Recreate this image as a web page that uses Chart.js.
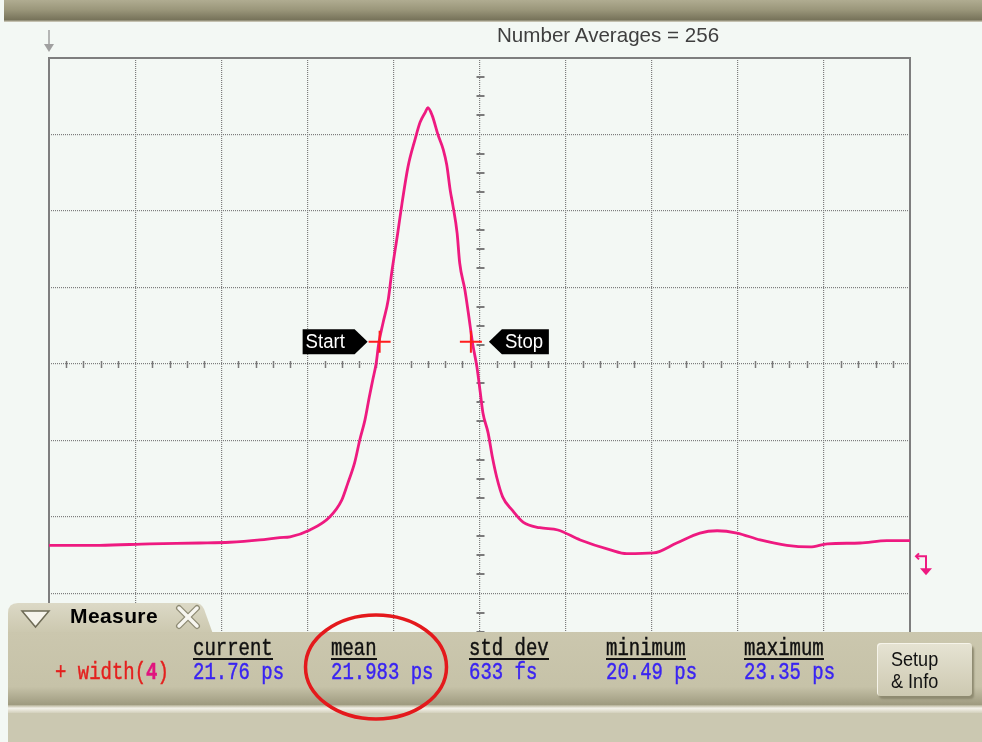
<!DOCTYPE html>
<html>
<head>
<meta charset="utf-8">
<script src="https://cdn.jsdelivr.net/npm/chart.js@4.4.1/dist/chart.umd.min.js"></script>
<style>
html,body{margin:0;padding:0;background:#f3f8f4;}
#wrap{position:relative;width:982px;height:742px;overflow:hidden;background:#f3f8f4;}
#c{position:absolute;left:0;top:0;}
.abs{position:absolute;white-space:nowrap;}
#topbar{left:4px;top:0;width:978px;height:22px;background:linear-gradient(#b0ac91 0%,#9a967a 45%,#77735a 90%,#d9d7c8 100%);}
#title{left:497px;top:24px;font:21px "Liberation Sans",Arial,sans-serif;color:#3f3f3f;line-height:21px;transform:scaleX(0.98);transform-origin:left top;}
.mono{font-family:"Liberation Mono","DejaVu Sans Mono",monospace;font-size:24px;line-height:24px;transform:scaleX(0.79);transform-origin:left top;-webkit-text-stroke:0.45px currentColor;}
.ul{height:2px;background:#111;}
#measure{left:70px;top:605px;font:bold 21px "Liberation Sans",Arial,sans-serif;letter-spacing:0.4px;line-height:21px;color:#000;}
#btn{left:877px;top:643px;width:95px;height:53px;border-radius:4px;background:linear-gradient(#e6e3d3,#cdc9b1);box-shadow:2px 3px 2px #8e8a70, inset 1px 1px 0 #f6f4ea;}
.btxt{font:21px "Liberation Sans",Arial,sans-serif;color:#111;line-height:21px;transform:scaleX(0.86);transform-origin:left top;}
</style>
</head>
<body>
<div id="wrap">
<canvas id="c" width="982" height="742"></canvas>
<div id="topbar" class="abs"></div>
<div id="title" class="abs">Number Averages = 256</div>
<svg class="abs" style="left:0;top:600px" width="982" height="142" viewBox="0 600 982 142">
  <defs>
    <linearGradient id="gtab" x1="0" y1="0" x2="0" y2="1">
      <stop offset="0" stop-color="#dcd9c6"/><stop offset="1" stop-color="#cbc7ae"/>
    </linearGradient>
    <linearGradient id="gbody" x1="0" y1="0" x2="0" y2="1">
      <stop offset="0" stop-color="#cbc7ae"/><stop offset="0.75" stop-color="#c6c2a8"/><stop offset="1" stop-color="#9e9a7f"/>
    </linearGradient>
    <linearGradient id="gsep" x1="0" y1="0" x2="0" y2="1">
      <stop offset="0" stop-color="#b3af95"/><stop offset="0.4" stop-color="#f4f2ea"/><stop offset="1" stop-color="#d3d0bc"/>
    </linearGradient>
  </defs>
  <path d="M8,634 L8,613 Q8,603 18,603 L196,603 Q201,603 204,609 L213,634 Z" fill="url(#gtab)"/>
  <rect x="8" y="632" width="974" height="73" fill="url(#gbody)"/>
  <rect x="8" y="705" width="974" height="8" fill="url(#gsep)"/>
  <rect x="8" y="713" width="974" height="29" fill="#cbc8b1"/>
  <polygon points="22,611 49,611 35.5,627" fill="#f6f4ec" stroke="#6e6b56" stroke-width="1.5"/>
  <g stroke-linecap="round">
    <line x1="179" y1="608" x2="197" y2="626" stroke="#8d8a73" stroke-width="6"/>
    <line x1="197" y1="608" x2="179" y2="626" stroke="#8d8a73" stroke-width="6"/>
    <line x1="179" y1="608" x2="197" y2="626" stroke="#f7f6f0" stroke-width="3.5"/>
    <line x1="197" y1="608" x2="179" y2="626" stroke="#f7f6f0" stroke-width="3.5"/>
  </g>
</svg>
<div id="measure" class="abs">Measure</div>
<div id="btn" class="abs">
  <div class="abs btxt" style="left:14px;top:5px">Setup</div>
  <div class="abs btxt" style="left:14px;top:27px">&amp; Info</div>
</div>
<svg class="abs" style="left:0;top:0" width="982" height="742">
  <ellipse cx="376" cy="667" rx="70.5" ry="52" fill="none" stroke="#e4191c" stroke-width="3.5"/>
</svg>
</div>
<script>
// ---- data (screen divisions: x 0..10, y -4..4) ----
const timeDiv = [0.00,0.59,1.17,1.75,2.10,2.45,2.68,2.80,3.03,3.26,3.40,3.47,3.55,3.61,3.67,3.72,3.76,3.80,3.83,3.88,3.94,3.98,4.05,4.10,4.17,4.25,4.31,4.37,4.40,4.45,4.52,4.58,4.62,4.66,4.69,4.74,4.77,4.83,4.87,4.92,4.97,5.01,5.04,5.10,5.15,5.20,5.27,5.38,5.51,5.70,5.91,6.17,6.52,6.71,7.02,7.29,7.56,7.76,7.99,8.26,8.57,8.84,9.04,9.42,9.73,10.00];
const traceDiv = [-2.37,-2.37,-2.35,-2.34,-2.33,-2.30,-2.27,-2.26,-2.17,-2.00,-1.78,-1.56,-1.29,-0.99,-0.73,-0.43,-0.21,0.01,0.27,0.54,0.84,1.19,1.71,2.10,2.58,2.93,3.16,3.29,3.35,3.25,2.99,2.80,2.60,2.27,2.08,1.71,1.32,0.97,0.67,0.27,-0.04,-0.38,-0.64,-0.90,-1.22,-1.48,-1.74,-1.91,-2.07,-2.14,-2.17,-2.30,-2.43,-2.48,-2.47,-2.34,-2.21,-2.18,-2.21,-2.30,-2.37,-2.39,-2.35,-2.34,-2.31,-2.31];
const markerNames = ['Start','Stop'];
const markerX = [3.84, 4.90];
const markerY = 0.29;
const groundLevel = -2.58;
const measureHeaders = ['current','mean','std dev','minimum','maximum'];
const measureValues = ['21.76 ps','21.983 ps','633 fs','20.49 ps','23.35 ps'];
const measureName = '+ width(';
const measureChannel = '4';

// ---- measurement panel text ----
const colX = [193,331,469,606,744];
function addDiv(cls, style, html){const d=document.createElement('div');d.className=cls;d.setAttribute('style',style);d.innerHTML=html;document.getElementById('wrap').appendChild(d);return d;}
measureHeaders.forEach((h,i)=>{
  addDiv('abs mono','left:'+colX[i]+'px;top:637px;color:#111;',h);
  addDiv('abs ul','left:'+colX[i]+'px;top:658px;width:'+Math.round(h.length*11.4)+'px;','');
  addDiv('abs mono','left:'+colX[i]+'px;top:661px;color:#3a24f2;',measureValues[i]);
});
addDiv('abs mono','left:55px;top:661px;color:#e4201e;',measureName+'<b style="color:#e0147e">'+measureChannel+'</b>)');

// ---- chart ----
const traceColor = '#ee1a80';
const decor = {
  id:'decor',
  beforeDraw(chart){
    const {ctx,width,height}=chart;
    ctx.save();ctx.fillStyle='#f3f8f4';ctx.fillRect(0,0,width,height);ctx.restore();
  },
  beforeDatasetsDraw(chart){
    const {ctx,chartArea:a,scales:{x,y}}=chart;
    ctx.save();
    ctx.strokeStyle='#7a7a7a';ctx.lineWidth=1.5;
    const y0=Math.round(y.getPixelForValue(0))+0.5;
    for(let v=0.2; v<10; v+=0.2){
      if(Math.abs(v-Math.round(v))<0.01) continue;
      const px=Math.round(x.getPixelForValue(v))+0.5;
      ctx.beginPath();ctx.moveTo(px,y0-3.5);ctx.lineTo(px,y0+3.5);ctx.stroke();
    }
    const x0=Math.round(x.getPixelForValue(5))+0.5;
    ctx.lineWidth=2;
    for(let v=-4; v<4; v+=0.25){
      if(Math.abs(v-Math.round(v))<0.01) continue;
      const py=Math.round(y.getPixelForValue(v));
      ctx.beginPath();ctx.moveTo(x0-4,py);ctx.lineTo(x0+4,py);ctx.stroke();
    }
    // frame
    ctx.strokeStyle='#7e7e7e';ctx.lineWidth=2;
    ctx.beginPath();
    ctx.moveTo(a.left,a.bottom);ctx.lineTo(a.left,a.top);ctx.lineTo(a.right,a.top);ctx.lineTo(a.right,a.bottom);
    ctx.stroke();
    // top-left arrow
    ctx.strokeStyle='#a0a0a0';ctx.fillStyle='#a0a0a0';ctx.lineWidth=1.5;
    ctx.beginPath();ctx.moveTo(a.left,30);ctx.lineTo(a.left,45);ctx.stroke();
    ctx.beginPath();ctx.moveTo(a.left-5,44);ctx.lineTo(a.left+5,44);ctx.lineTo(a.left,52);ctx.closePath();ctx.fill();
    ctx.restore();
  },
  afterDatasetsDraw(chart){
    const {ctx,chartArea:a,scales:{x,y}}=chart;
    ctx.save();
    const py=y.getPixelForValue(markerY);
    markerX.forEach((mx,i)=>{
      const px=x.getPixelForValue(mx);
      ctx.strokeStyle='#ff1d1d';ctx.lineWidth=2;
      ctx.beginPath();ctx.moveTo(px-11,py);ctx.lineTo(px+11,py);ctx.moveTo(px,py-11);ctx.lineTo(px,py+11);ctx.stroke();
      ctx.fillStyle='#000';
      ctx.beginPath();
      let tx;
      if(i===0){
        const tip=px-12;
        ctx.moveTo(tip-65,py-12.5);ctx.lineTo(tip-13,py-12.5);ctx.lineTo(tip,py);ctx.lineTo(tip-13,py+12.5);ctx.lineTo(tip-65,py+12.5);
        tx=tip-62;
      } else {
        const tip=px+18;
        ctx.moveTo(tip,py);ctx.lineTo(tip+13,py-12.5);ctx.lineTo(tip+60,py-12.5);ctx.lineTo(tip+60,py+12.5);ctx.lineTo(tip+13,py+12.5);
        tx=tip+16;
      }
      ctx.closePath();ctx.fill();
      ctx.fillStyle='#fff';ctx.font='20px "Liberation Sans", Arial, sans-serif';ctx.textBaseline='middle';
      ctx.save();ctx.translate(tx,py+1);ctx.scale(0.93,1);ctx.fillText(markerNames[i],0,0);ctx.restore();
    });
    // ground marker
    const gy=y.getPixelForValue(groundLevel);
    const gx=a.right+16;
    ctx.strokeStyle=traceColor;ctx.fillStyle=traceColor;ctx.lineWidth=2;
    ctx.beginPath();ctx.moveTo(gx-10,gy-5);ctx.lineTo(gx,gy-5);ctx.lineTo(gx,gy+8);ctx.stroke();
    ctx.beginPath();ctx.moveTo(gx-7,gy-8);ctx.lineTo(gx-10,gy-5);ctx.lineTo(gx-7,gy-2);ctx.stroke();
    ctx.beginPath();ctx.moveTo(gx-6,gy+7);ctx.lineTo(gx+6,gy+7);ctx.lineTo(gx,gy+14);ctx.closePath();ctx.fill();
    ctx.restore();
  }
};

const gridOpts = {color:'#7d7d7d',lineWidth:1.2,drawTicks:false};
new Chart(document.getElementById('c'),{
  type:'line',
  data:{datasets:[{
    data: timeDiv.map((t,i)=>({x:t,y:traceDiv[i]})),
    borderColor:traceColor,borderWidth:2.8,pointRadius:0,fill:false,
    cubicInterpolationMode:'monotone'
  }]},
  options:{
    responsive:false,animation:false,
    layout:{padding:{left:49,top:58,right:72,bottom:72}},
    plugins:{legend:{display:false},tooltip:{enabled:false},title:{display:false}},
    scales:{
      x:{type:'linear',min:0,max:10,ticks:{display:false,stepSize:1},grid:gridOpts,border:{display:false,dash:[1,1]}},
      y:{type:'linear',min:-4,max:4,ticks:{display:false,stepSize:1},grid:gridOpts,border:{display:false,dash:[1,1]}}
    }
  },
  plugins:[decor]
});
</script>
</body>
</html>
